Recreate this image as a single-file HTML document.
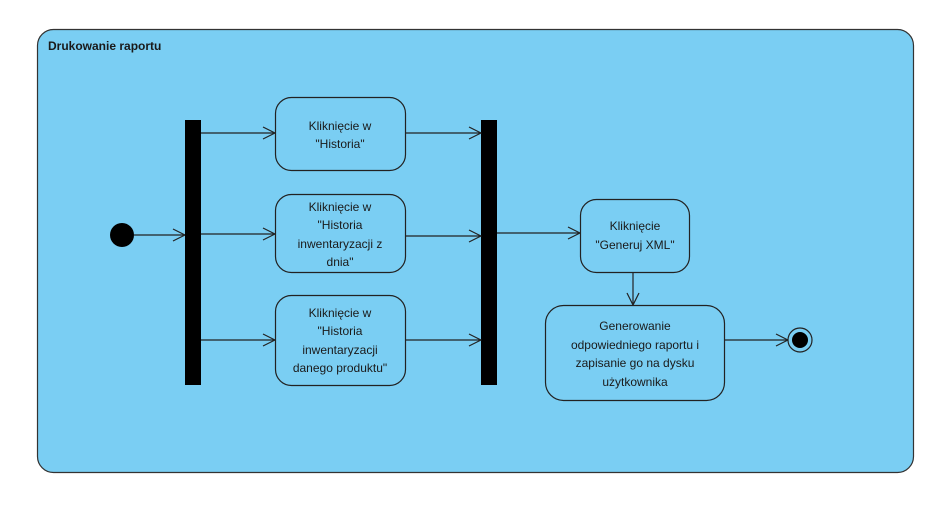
<!DOCTYPE html>
<html><head><meta charset="utf-8"><style>
html,body{margin:0;padding:0;background:#fff;}
svg{display:block;}
text{font-family:"Liberation Sans",sans-serif;font-size:12px;fill:#1a1a1a;}
</style></head><body>
<svg width="952" height="507" viewBox="0 0 952 507" xmlns="http://www.w3.org/2000/svg">
<defs>
<marker id="a" markerWidth="14" markerHeight="14" refX="13" refY="7" orient="auto" markerUnits="userSpaceOnUse">
<path d="M1,1 L13,7 L1,13" fill="none" stroke="#222" stroke-width="1.2"/>
</marker>
</defs>
<rect x="37.5" y="29.5" width="876" height="443" rx="16" fill="#7acef3" stroke="#333" stroke-width="1.2"/>
<text x="48" y="50" style="font-weight:bold">Drukowanie raportu</text>

<circle cx="122" cy="235" r="12" fill="#000"/>
<line x1="134" y1="235" x2="185" y2="235" stroke="#222" stroke-width="1.2" marker-end="url(#a)"/>

<rect x="185" y="120" width="16" height="265" fill="#000"/>
<rect x="481" y="120" width="16" height="265" fill="#000"/>

<g stroke="#222" stroke-width="1.2" fill="none">
<line x1="201" y1="133" x2="275" y2="133" marker-end="url(#a)"/>
<line x1="201" y1="234" x2="275" y2="234" marker-end="url(#a)"/>
<line x1="201" y1="340" x2="275" y2="340" marker-end="url(#a)"/>
<line x1="405" y1="133" x2="481" y2="133" marker-end="url(#a)"/>
<line x1="405" y1="236" x2="481" y2="236" marker-end="url(#a)"/>
<line x1="405" y1="340" x2="481" y2="340" marker-end="url(#a)"/>
<line x1="497" y1="233" x2="580" y2="233" marker-end="url(#a)"/>
<line x1="633" y1="272" x2="633" y2="305" marker-end="url(#a)"/>
<line x1="724" y1="340" x2="788" y2="340" marker-end="url(#a)"/>
</g>

<g fill="#7acef3" stroke="#222" stroke-width="1.2">
<rect x="275.5" y="97.5" width="130" height="73" rx="16"/>
<rect x="275.5" y="194.5" width="130" height="78" rx="16"/>
<rect x="275.5" y="295.5" width="130" height="90" rx="16"/>
<rect x="580.5" y="199.5" width="109" height="73" rx="16"/>
<rect x="545.5" y="305.5" width="179" height="95" rx="18"/>
</g>

<g text-anchor="middle">
<text x="340" y="130">Kliknięcie w</text>
<text x="340" y="148">"Historia"</text>
<text x="340" y="211">Kliknięcie w</text>
<text x="340" y="229">"Historia</text>
<text x="340" y="248">inwentaryzacji z</text>
<text x="340" y="266">dnia"</text>
<text x="340" y="317">Kliknięcie w</text>
<text x="340" y="335">"Historia</text>
<text x="340" y="354">inwentaryzacji</text>
<text x="340" y="372">danego produktu"</text>
<text x="635" y="230">Kliknięcie</text>
<text x="635" y="249">"Generuj XML"</text>
<text x="635" y="330">Generowanie</text>
<text x="635" y="349">odpowiedniego raportu i</text>
<text x="635" y="367">zapisanie go na dysku</text>
<text x="635" y="386">użytkownika</text>
</g>

<circle cx="800" cy="340" r="12" fill="#7acef3" stroke="#222" stroke-width="1.2"/>
<circle cx="800" cy="340" r="8" fill="#000"/>
</svg>
</body></html>
